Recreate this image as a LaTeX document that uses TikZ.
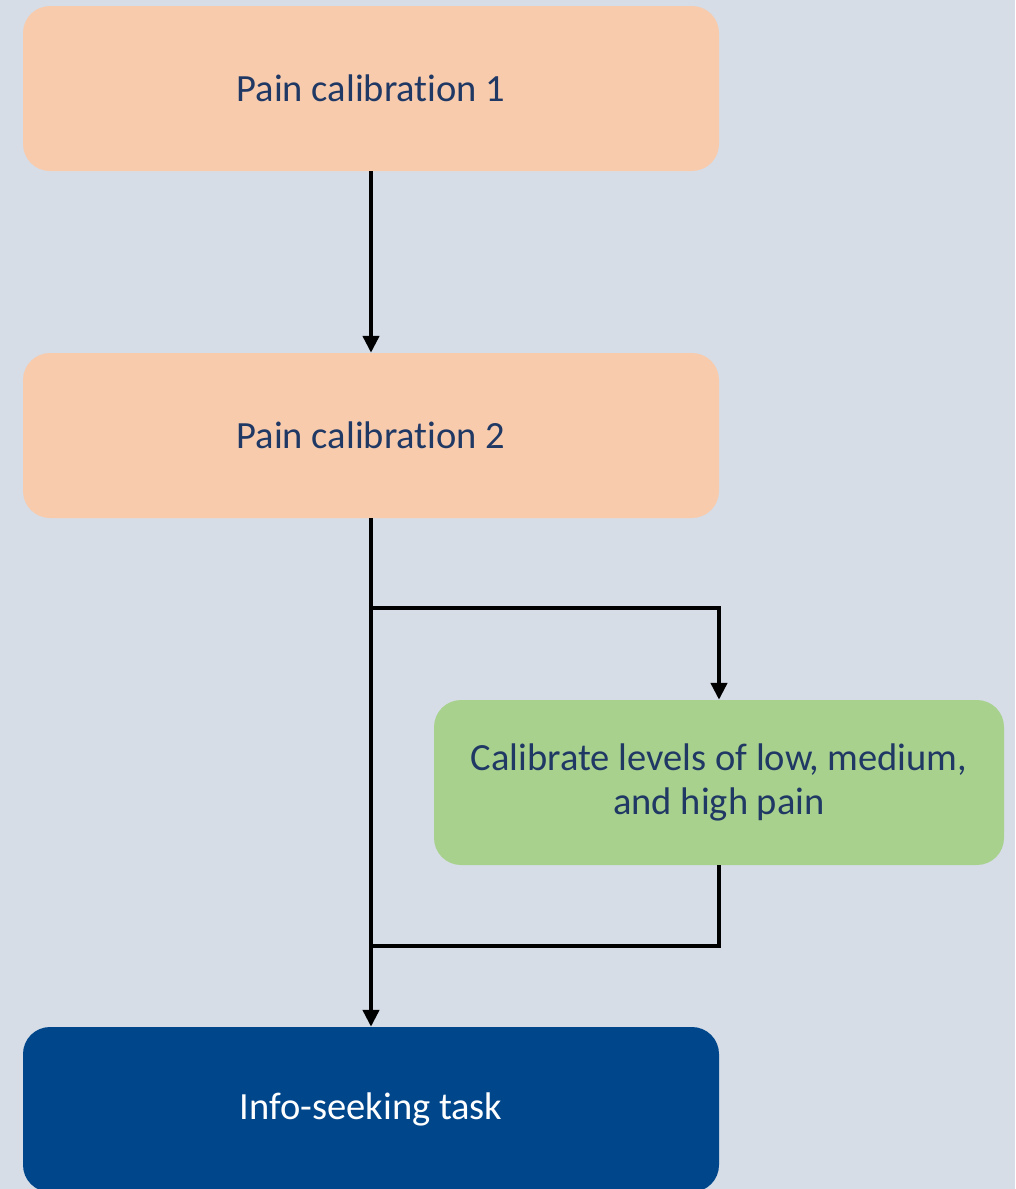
\documentclass[tikz,border=0pt]{standalone}
\usepackage{fontspec}
\setmainfont[Ligatures={NoCommon}]{Carlito}
\usetikzlibrary{arrows.meta}
\definecolor{bg}{HTML}{D6DDE7}
\definecolor{peach}{HTML}{F8CBAD}
\definecolor{lgreen}{HTML}{A9D18E}
\definecolor{dblue}{HTML}{00468B}
\definecolor{navy}{HTML}{1F3864}
\tikzset{
  box/.style={rounded corners=27pt, minimum height=165pt, inner sep=0pt, align=center, font=\fontsize{38.5}{44}\selectfont, text=navy},
  conn/.style={line width=4.5pt, black},
  arr/.style={conn, -{Triangle[width=16pt,length=17pt]}}
}
\begin{document}
\begin{tikzpicture}[x=1pt,y=-1pt]
\fill[bg] (0,0) rectangle (1015,1189);
\useasboundingbox (0,0) rectangle (1015,1189);
\node[box, fill=peach, minimum width=696pt] (p1) at (371,88.5) {Pain calibration 1};
\node[box, fill=peach, minimum width=696pt] (p2) at (371,435.5) {Pain calibration 2};
\node[box, fill=lgreen, minimum width=570pt] (cal) at (719,782.5) {Calibrate levels of low, medium,\\and high pain};
\node[box, fill=dblue, minimum width=696pt, text=white] (info) at (371,1109.5) {Info-seeking task};
\coordinate (j1) at (371,608);
\coordinate (j2) at (371,946);
\draw[arr] (p1) -- (p2);
\draw[arr] (p2) -- (info);
\draw[arr] (j1) -| (cal);
\draw[conn] (cal) |- (j2);
\end{tikzpicture}
\end{document}
